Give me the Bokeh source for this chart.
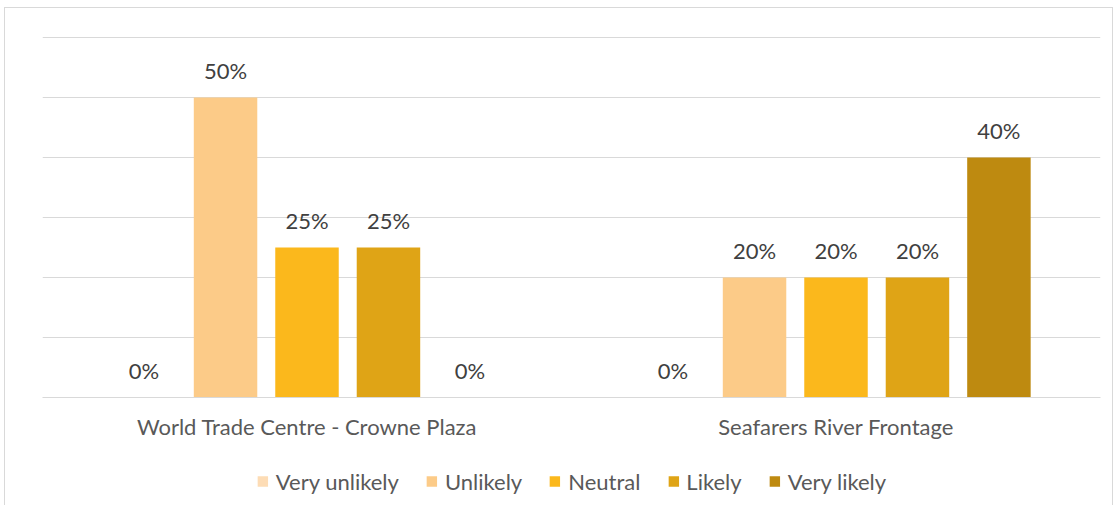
from bokeh.plotting import figure
from bokeh.layouts import column
from bokeh.models import ColumnDataSource, LabelSet, Legend, LegendItem, FixedTicker, Range1d
from bokeh.core.properties import value
from bokeh.transform import dodge
from bokeh.embed import file_html
from bokeh.resources import INLINE

categories = ["World Trade Centre - Crowne Plaza", "Seafarers River Frontage"]
series = ["Very unlikely", "Unlikely", "Neutral", "Likely", "Very likely"]
very_unlikely = [0.0, 0.0]
unlikely = [0.50, 0.20]
neutral = [0.25, 0.20]
likely = [0.25, 0.20]
very_likely = [0.0, 0.40]
colors = ["#FDDCB5", "#FCCB88", "#FBB81C", "#DFA416", "#BE8A10"]

values = [very_unlikely, unlikely, neutral, likely, very_likely]
FONT = "Lato"
FS = "22px"

p = figure(x_range=categories, y_range=(0, 0.605), width=1107, height=449,
           output_backend="svg", toolbar_location=None,
           min_border_left=29, min_border_right=12, min_border_top=26, min_border_bottom=60)
p.x_range.range_padding = 0
p.outline_line_color = None

step = 0.154
for i, (name, vals, col) in enumerate(zip(series, values, colors)):
    src = ColumnDataSource(dict(cat=categories, val=vals,
                                lab=[f"{round(v*100)}%" for v in vals]))
    off = (i - 2) * step
    p.vbar(x=dodge("cat", off, range=p.x_range), top="val", width=0.12,
           source=src, fill_color=col, line_color=None)
    p.add_layout(LabelSet(x=dodge("cat", off, range=p.x_range), y="val", text="lab",
                          source=src, text_align="center", text_baseline="middle",
                          y_offset=27, text_font=value(FONT), text_font_size=value(FS),
                          text_color=value("#404040")))

p.yaxis.visible = False
p.ygrid.ticker = FixedTicker(ticks=[0, 0.1, 0.2, 0.3, 0.4, 0.5, 0.6])
p.ygrid.grid_line_color = "#d9d9d9"
p.xgrid.grid_line_color = None

p.xaxis.axis_line_color = "#d9d9d9"
p.xaxis.major_tick_line_color = None
p.xaxis.minor_tick_line_color = None
p.xaxis.major_label_text_font = FONT
p.xaxis.major_label_text_font_size = FS
p.xaxis.major_label_text_color = "#595959"
p.xaxis.major_label_standoff = 9

# legend strip below the plot (legend renderers sit outside the visible range)
lg = figure(width=1107, height=48, x_range=Range1d(0, 1), y_range=Range1d(0, 1),
            output_backend="svg", toolbar_location=None,
            x_axis_location=None, y_axis_location=None,
            min_border_left=37, min_border_right=0, min_border_top=0, min_border_bottom=0)
lg.outline_line_color = None
lg.xgrid.visible = False
lg.ygrid.visible = False
items = []
for name, col in zip(series, colors):
    r = lg.vbar(x=[-5], top=[0], width=0.1, fill_color=col, line_color=None)
    items.append(LegendItem(label=name, renderers=[r]))
legend = Legend(items=items, orientation="horizontal", location="center",
                label_text_font=FONT, label_text_font_size=FS,
                label_text_color="#595959", glyph_width=13, glyph_height=13,
                spacing=26, label_standoff=7, padding=0, margin=0,
                border_line_color=None, background_fill_alpha=0)
lg.add_layout(legend, "center")

layout = column(p, lg, spacing=0,
                styles={"border-top": "1px solid #d9d9d9", "border-left": "1px solid #d9d9d9",
                        "border-right": "1px solid #d9d9d9", "margin-left": "4px",
                        "margin-top": "7px"})

open("out.html", "w").write(file_html(layout, INLINE))
